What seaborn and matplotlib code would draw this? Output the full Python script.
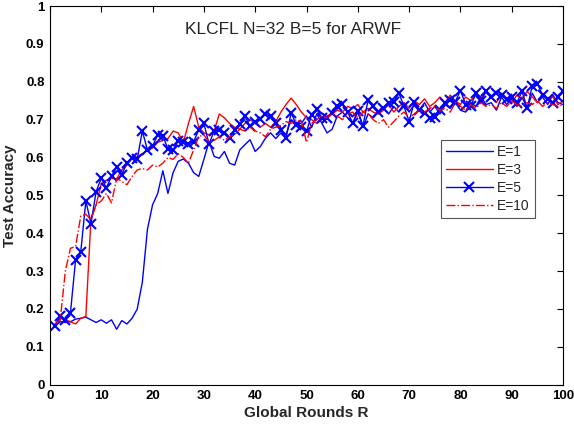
import numpy as np
import pandas as pd
import matplotlib
matplotlib.use("Agg")
import matplotlib.pyplot as plt
import seaborn as sns

rounds = list(range(1, 101))

e1 = [0.155,0.166,0.164,0.166,0.173,0.175,0.178,0.171,0.164,0.171,
      0.162,0.171,0.146,0.169,0.160,0.175,0.199,0.27,0.41,0.475,
      0.505,0.565,0.505,0.56,0.59,0.596,0.585,0.56,0.55,0.595,
      0.642,0.603,0.598,0.616,0.585,0.58,0.62,0.634,0.647,0.616,
      0.629,0.651,0.665,0.65,0.665,0.66,0.70,0.69,0.69,0.71,
      0.68,0.715,0.69,0.665,0.675,0.71,0.72,0.705,0.69,0.72,
      0.68,0.715,0.705,0.72,0.73,0.715,0.735,0.72,0.745,0.72,
      0.74,0.725,0.745,0.72,0.735,0.715,0.74,0.73,0.745,0.725,
      0.72,0.745,0.735,0.76,0.74,0.745,0.725,0.76,0.74,0.755,
      0.735,0.76,0.73,0.77,0.745,0.76,0.74,0.765,0.745,0.74]

e3 = [0.16,0.175,0.172,0.166,0.16,0.175,0.18,0.44,0.475,0.53,
      0.54,0.545,0.543,0.567,0.58,0.598,0.602,0.61,0.62,0.625,
      0.64,0.645,0.65,0.67,0.665,0.64,0.69,0.735,0.68,0.665,
      0.66,0.67,0.715,0.705,0.69,0.68,0.675,0.69,0.70,0.69,
      0.68,0.69,0.68,0.695,0.72,0.74,0.757,0.74,0.72,0.705,
      0.70,0.69,0.70,0.71,0.715,0.725,0.72,0.735,0.73,0.74,
      0.72,0.73,0.72,0.715,0.725,0.74,0.72,0.735,0.745,0.73,
      0.75,0.74,0.755,0.735,0.745,0.76,0.745,0.765,0.75,0.74,
      0.76,0.75,0.765,0.755,0.775,0.76,0.745,0.77,0.755,0.745,
      0.765,0.755,0.775,0.76,0.745,0.77,0.755,0.76,0.74,0.75]

e5 = [0.155,0.18,0.17,0.19,0.33,0.35,0.485,0.425,0.51,0.545,
      0.52,0.55,0.575,0.555,0.585,0.60,0.595,0.67,0.62,0.63,
      0.66,0.658,0.622,0.62,0.644,0.64,0.636,0.642,0.673,0.69,
      0.636,0.67,0.673,0.664,0.651,0.673,0.688,0.709,0.682,0.695,
      0.701,0.715,0.709,0.69,0.673,0.651,0.718,0.687,0.68,0.669,
      0.713,0.728,0.704,0.704,0.718,0.735,0.741,0.72,0.691,0.724,
      0.684,0.752,0.735,0.72,0.73,0.744,0.748,0.77,0.735,0.695,
      0.748,0.726,0.717,0.704,0.708,0.726,0.744,0.752,0.748,0.777,
      0.74,0.735,0.77,0.75,0.775,0.76,0.77,0.765,0.755,0.76,
      0.745,0.775,0.73,0.79,0.795,0.765,0.755,0.745,0.76,0.775]

e10 = [0.16,0.17,0.30,0.36,0.365,0.445,0.45,0.435,0.475,0.485,
       0.505,0.48,0.545,0.537,0.528,0.55,0.567,0.571,0.567,0.58,
       0.575,0.585,0.60,0.595,0.61,0.60,0.585,0.62,0.655,0.66,
       0.64,0.645,0.655,0.645,0.655,0.66,0.675,0.67,0.68,0.67,
       0.665,0.655,0.675,0.68,0.685,0.695,0.69,0.70,0.695,0.64,
       0.69,0.70,0.71,0.705,0.715,0.71,0.70,0.715,0.72,0.705,
       0.72,0.715,0.70,0.69,0.70,0.68,0.695,0.71,0.72,0.705,
       0.715,0.725,0.72,0.73,0.735,0.725,0.73,0.72,0.745,0.735,
       0.725,0.74,0.73,0.745,0.735,0.74,0.73,0.745,0.735,0.75,
       0.74,0.735,0.745,0.74,0.75,0.735,0.745,0.74,0.735,0.74]

labels = ["E=1", "E=3", "E=5", "E=10"]
series = [e1, e3, e5, e10]
x_ticks = [0, 10, 20, 30, 40, 50, 60, 70, 80, 90, 100]
y_ticks = [0, 0.1, 0.2, 0.3, 0.4, 0.5, 0.6, 0.7, 0.8, 0.9, 1]
y_tick_labels = ["0", "0.1", "0.2", "0.3", "0.4", "0.5", "0.6", "0.7", "0.8", "0.9", "1"]

sns.set_style("white")
plt.rcParams["font.family"] = ["Liberation Sans", "DejaVu Sans"]

df = pd.concat([pd.DataFrame({"R": rounds, "acc": s, "E": lab})
                for s, lab in zip(series, labels)], ignore_index=True)

styles = {
    "E=1": dict(color="#0000ff", linestyle="-", marker=None),
    "E=3": dict(color="#ff0000", linestyle="-", marker=None),
    "E=5": dict(color="#0000ff", linestyle="-", marker="x", markersize=6.5, markeredgewidth=1.5),
    "E=10": dict(color="#ff0000", linestyle="-.", marker=None),
}

fig = plt.figure(figsize=(5.74, 4.28), dpi=100)
ax = fig.add_axes([0.087, 0.1016, 0.894, 0.884])

for lab in labels:
    st = styles[lab]
    sub = df[df["E"] == lab]
    kw = dict(color=st["color"], linestyle=st["linestyle"], linewidth=1.0, label=lab)
    if st["marker"]:
        kw.update(marker=st["marker"], markersize=st["markersize"],
                  markeredgewidth=st["markeredgewidth"], markeredgecolor=st["color"])
    sns.lineplot(data=sub, x="R", y="acc", ax=ax, **kw)

ax.set_xlim(0, 100)
ax.set_ylim(0, 1)
ax.set_xticks(x_ticks)
ax.set_yticks(y_ticks)
ax.set_yticklabels(y_tick_labels)
ax.tick_params(direction="in", length=4, width=0.8, top=True, right=True,
               labelsize=9.5, colors="black", pad=4)
for lbl in ax.get_xticklabels() + ax.get_yticklabels():
    lbl.set_fontweight("bold")
for sp in ax.spines.values():
    sp.set_color("black")
    sp.set_linewidth(0.8)

ax.set_xlabel("Global Rounds R", fontsize=11, fontweight="bold", labelpad=3)
ax.set_ylabel("Test Accuracy", fontsize=11, fontweight="bold", labelpad=6)

ax.text(0.474, 0.937, "KLCFL N=32 B=5 for ARWF", transform=ax.transAxes,
        ha="center", va="center", fontsize=12.5)

leg = ax.legend(loc="upper left", bbox_to_anchor=(0.762, 0.647), fontsize=10,
                handlelength=3.4, handletextpad=0.3, labelspacing=0.3,
                borderpad=0.35, frameon=True, fancybox=False, framealpha=1,
                edgecolor="#555555", borderaxespad=0)
leg.get_frame().set_linewidth(0.8)

fig.savefig("out.png", dpi=100)
